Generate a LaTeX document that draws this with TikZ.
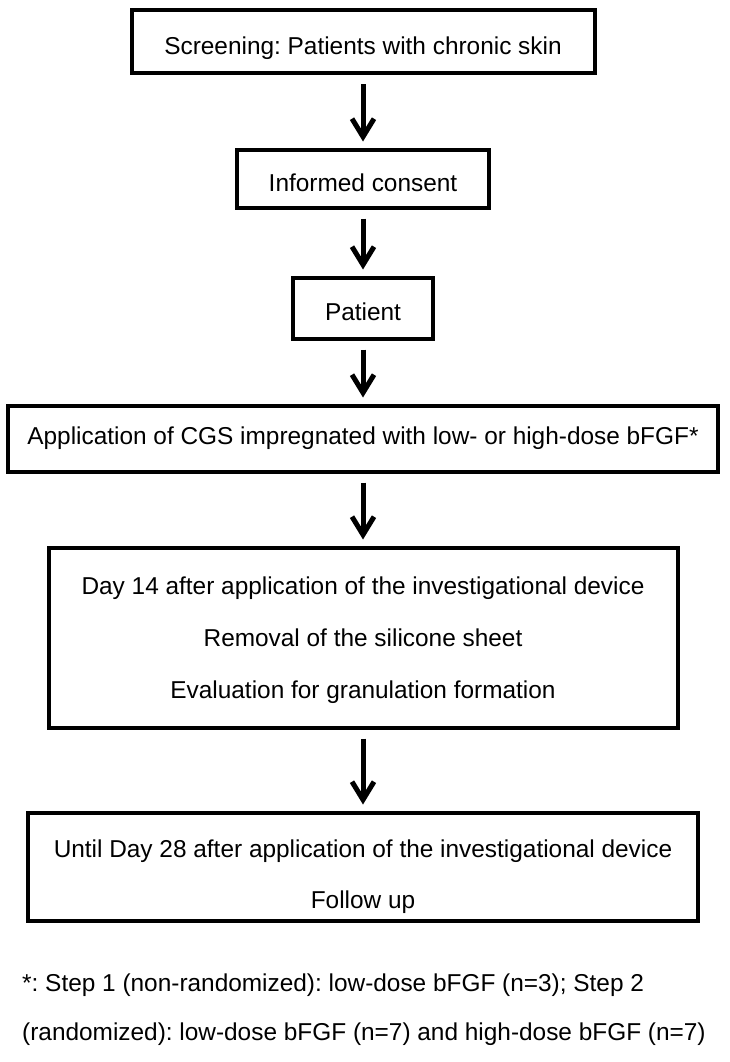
\documentclass[tikz,border=0pt]{standalone}
\usepackage{fontspec}
\setmainfont{Liberation Sans}
\usetikzlibrary{arrows.meta, positioning}

\begin{document}
\frenchspacing
\begin{tikzpicture}[
    x=1pt, y=1pt,
    every node/.style={font=\fontsize{24.4}{29}\selectfont},
    box/.style={rectangle, draw, line width=4pt, inner sep=0pt, align=center},
    low/.style={text height=30pt, text depth=5pt},
    flow/.style={line width=5pt, -{Straight Barb[length=18pt, width=22pt, line width=5pt]}, shorten <=9pt, shorten >=6pt}
]
\useasboundingbox (0,0) rectangle (730,-1062);

\node[box, low, minimum width=463pt, minimum height=63pt] (screen) at (363,-42) {Screening: Patients with chronic skin};
\node[box, low, minimum width=252pt, minimum height=58pt, below=72pt of screen] (consent) {Informed consent};
\node[box, low, minimum width=140pt, minimum height=61pt, below=66pt of consent] (patient) {Patient};
\node[box, minimum width=710pt, minimum height=66pt, below=63pt of patient] (apply) {Application of CGS impregnated with low- or high-dose bFGF*};
\node[box, minimum width=629pt, minimum height=180pt, below=72pt of apply, font=\fontsize{24.4}{52}\selectfont, text height=128pt] (day14) {Day 14 after application of the investigational device\\Removal of the silicone sheet\\Evaluation for granulation formation};
\node[box, minimum width=670pt, minimum height=108pt, below=81pt of day14, font=\fontsize{24.4}{51}\selectfont, text height=90pt] (day28) {Until Day 28 after application of the investigational device\\Follow up};

\node[anchor=base west, inner sep=0pt, align=left, font=\fontsize{24.4}{49}\selectfont] (note) at (22,-1040) {*: Step 1 (non-randomized): low-dose bFGF (n=3); Step 2\\(randomized): low-dose bFGF (n=7) and high-dose bFGF (n=7)};

\draw[flow] (screen) -- (consent);
\draw[flow] (consent) -- (patient);
\draw[flow] (patient) -- (apply);
\draw[flow] (apply) -- (day14);
\draw[flow] (day14) -- (day28);
\end{tikzpicture}
\end{document}
